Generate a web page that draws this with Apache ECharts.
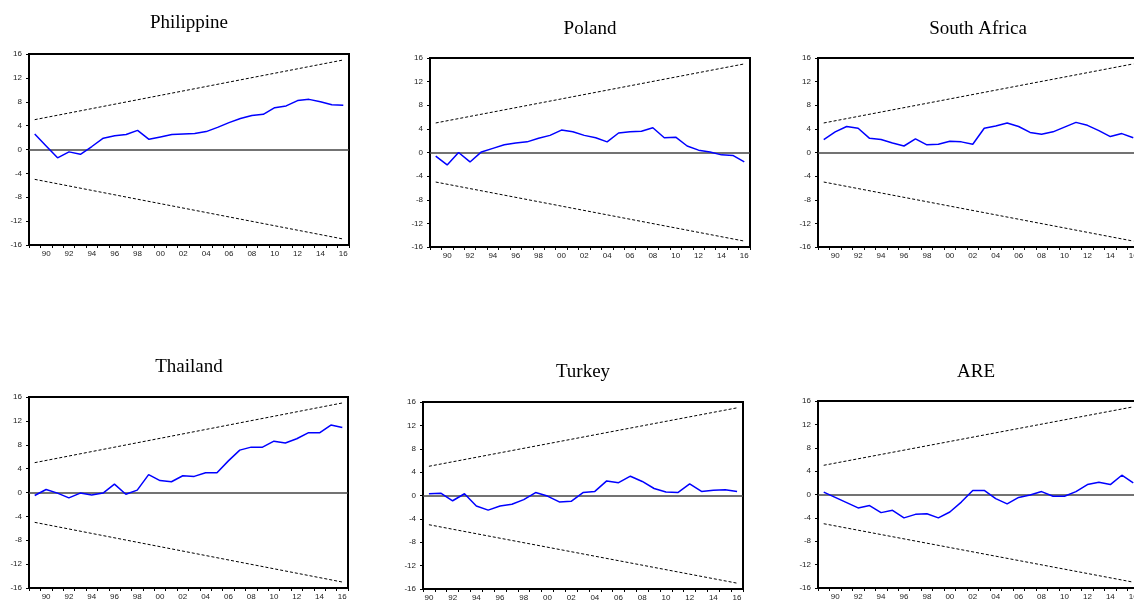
<!DOCTYPE html>
<html>
<head>
<meta charset="utf-8">
<script src="https://cdn.jsdelivr.net/npm/echarts@6/dist/echarts.min.js"></script>
<style>
html,body{margin:0;padding:0;background:#fff;overflow:hidden;width:1134px;height:605px;}
#chart{width:1146px;height:605px;}
</style>
</head>
<body>
<div id="chart"></div>
<script>
// ---- data ----
const titles = ['Philippine', 'Poland', 'South Africa', 'Thailand', 'Turkey', 'ARE'];
const years8916 = ['1989','1990','1991','1992','1993','1994','1995','1996','1997','1998','1999','2000','2001','2002','2003','2004','2005','2006','2007','2008','2009','2010','2011','2012','2013','2014','2015','2016'];
const years9016 = ['1990','1991','1992','1993','1994','1995','1996','1997','1998','1999','2000','2001','2002','2003','2004','2005','2006','2007','2008','2009','2010','2011','2012','2013','2014','2015','2016'];
const cusumPhilippine = [2.6, 0.6, -1.4, -0.4, -0.8, 0.5, 1.9, 2.3, 2.5, 3.2, 1.7, 2.1, 2.5, 2.6, 2.7, 3.0, 3.7, 4.5, 5.2, 5.7, 5.9, 7.0, 7.3, 8.2, 8.4, 8.0, 7.5, 7.4];
const cusumPoland = [-0.6, -2.1, 0.0, -1.6, 0.1, 0.7, 1.3, 1.6, 1.8, 2.4, 2.9, 3.8, 3.5, 2.9, 2.5, 1.8, 3.3, 3.5, 3.6, 4.2, 2.5, 2.6, 1.1, 0.4, 0.1, -0.4, -0.5, -1.6];
const cusumSouthAfrica = [2.2, 3.5, 4.4, 4.1, 2.4, 2.2, 1.6, 1.1, 2.3, 1.3, 1.4, 1.9, 1.8, 1.4, 4.1, 4.5, 5.0, 4.4, 3.4, 3.1, 3.5, 4.3, 5.1, 4.6, 3.7, 2.7, 3.2, 2.5];
const cusumThailand = [-0.5, 0.5, -0.1, -0.9, -0.1, -0.4, -0.1, 1.4, -0.3, 0.4, 3.0, 2.0, 1.8, 2.8, 2.7, 3.3, 3.3, 5.3, 7.1, 7.6, 7.6, 8.6, 8.3, 9.0, 10.0, 10.0, 11.3, 10.9];
const cusumTurkey = [0.3, 0.4, -0.9, 0.3, -1.8, -2.5, -1.8, -1.5, -0.7, 0.5, -0.1, -1.1, -1.0, 0.5, 0.7, 2.5, 2.2, 3.3, 2.4, 1.2, 0.6, 0.5, 2.0, 0.7, 0.9, 1.0, 0.7];
const cusumARE = [0.4, -0.5, -1.4, -2.3, -1.9, -3.1, -2.7, -4.0, -3.4, -3.3, -4.0, -3.0, -1.3, 0.7, 0.7, -0.7, -1.6, -0.5, -0.1, 0.5, -0.3, -0.3, 0.5, 1.7, 2.1, 1.7, 3.3, 2.0];
// 5% significance bounds: value at first and last observation
const upperBound = [5, 15];
const lowerBound = [-5, -15];
const yTicks = { min: -16, max: 16, step: 4 };

const panels = [
  { title: titles[0], cats: years8916, vals: cusumPhilippine },
  { title: titles[1], cats: years8916, vals: cusumPoland },
  { title: titles[2], cats: years8916, vals: cusumSouthAfrica },
  { title: titles[3], cats: years8916, vals: cusumThailand },
  { title: titles[4], cats: years9016, vals: cusumTurkey },
  { title: titles[5], cats: years8916, vals: cusumARE }
];

// ---- layout (pixels) ----
const grids = [
  { left: 29,  top: 54,  width: 320, height: 191 },
  { left: 430, top: 58,  width: 320, height: 189 },
  { left: 818, top: 58,  width: 321, height: 189 },
  { left: 29,  top: 397, width: 319, height: 191 },
  { left: 423, top: 402, width: 320, height: 187 },
  { left: 818, top: 401, width: 321, height: 187 }
];
const titlePos = [[189, 23], [590, 29], [978, 29], [189, 367], [583, 372], [976, 372]];

const chart = echarts.init(document.getElementById('chart'), null, { renderer: 'canvas' });

const gridOpt = [], xAxes = [], yAxes = [], series = [], graphics = [];
panels.forEach((p, k) => {
  gridOpt.push(Object.assign({ show: true, borderColor: '#000', borderWidth: 2, backgroundColor: 'transparent' }, grids[k]));
  const firstLabel = (parseInt(p.cats[0]) % 2 === 0) ? 0 : 1;
  xAxes.push({
    type: 'category', gridIndex: k, data: p.cats, boundaryGap: true,
    axisLine: { show: true, onZero: false, lineStyle: { color: '#000', width: 2 } },
    axisTick: { show: true, interval: 0, length: 3, lineStyle: { color: '#000', width: 1 } },
    axisLabel: {
      interval: (i) => i % 2 === firstLabel,
      formatter: (v) => v.slice(2),
      fontFamily: 'Liberation Sans', fontSize: 8, color: '#222', margin: 5
    },
    splitLine: { show: false }
  });
  yAxes.push({
    type: 'value', gridIndex: k, min: yTicks.min, max: yTicks.max, interval: yTicks.step,
    axisLine: { show: true, onZero: false, lineStyle: { color: '#000', width: 2 } },
    axisTick: { show: true, length: 3, lineStyle: { color: '#000', width: 1 } },
    axisLabel: { fontFamily: 'Liberation Sans', fontSize: 8, color: '#222', margin: 7 },
    splitLine: { show: false }
  });
  const n = p.cats.length;
  const bound = (b) => p.cats.map((c, i) => i === 0 ? b[0] : (i === n - 1 ? b[1] : null));
  series.push({
    type: 'line', xAxisIndex: k, yAxisIndex: k, data: bound(upperBound), connectNulls: true,
    showSymbol: false, symbol: 'none', silent: true,
    lineStyle: { color: '#000', width: 1, type: [3, 2] }
  });
  series.push({
    type: 'line', xAxisIndex: k, yAxisIndex: k, data: bound(lowerBound), connectNulls: true,
    showSymbol: false, symbol: 'none', silent: true,
    lineStyle: { color: '#000', width: 1, type: [3, 2] }
  });
  series.push({
    type: 'line', xAxisIndex: k, yAxisIndex: k, data: p.vals, z: 5,
    showSymbol: false, symbol: 'none', silent: true,
    lineStyle: { color: '#0000ff', width: 1.5 },
    markLine: {
      silent: true, symbol: 'none', label: { show: false },
      lineStyle: { color: '#444', width: 1.5, type: 'solid' },
      data: [{ yAxis: 0 }]
    }
  });
  graphics.push({
    type: 'text', x: titlePos[k][0], y: titlePos[k][1],
    style: { text: p.title, fontFamily: 'Liberation Serif', fontSize: 19, fill: '#000', textAlign: 'center', textVerticalAlign: 'middle' }
  });
});

chart.setOption({
  animation: false,
  backgroundColor: '#fff',
  grid: gridOpt,
  xAxis: xAxes,
  yAxis: yAxes,
  series: series,
  graphic: graphics
});
</script>
</body>
</html>
